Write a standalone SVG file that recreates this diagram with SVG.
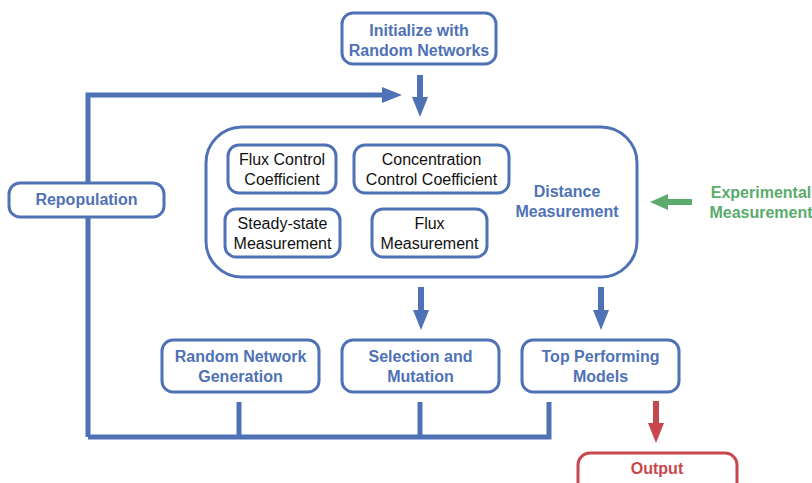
<svg xmlns="http://www.w3.org/2000/svg" width="812" height="483" viewBox="0 0 812 483">
<style>
.box{fill:#fff;stroke:#4f72b6;stroke-width:3}
.inner{fill:#fff;stroke:#4f72b6;stroke-width:3}
.t{font-family:"Liberation Sans",Arial,sans-serif;font-size:16px;text-anchor:middle}
.b{font-weight:bold;fill:#4f72b6}
.k{fill:#111}
.g{font-weight:bold;fill:#5aab6c}
.r{font-weight:bold;fill:#c8474c}
.ln{fill:none;stroke:#4f72b6;stroke-width:5}
.ar{fill:none;stroke:#4f72b6;stroke-width:6}
</style>
<defs>
<marker id="ab" markerUnits="userSpaceOnUse" markerWidth="20" markerHeight="16" viewBox="0 0 20 16" refX="0" refY="8" orient="auto"><path d="M0,0 L20,8 L0,16 z" fill="#4f72b6"/></marker>
<marker id="ag" markerUnits="userSpaceOnUse" markerWidth="18" markerHeight="16" viewBox="0 0 18 16" refX="0" refY="8" orient="auto"><path d="M0,0 L18,8 L0,16 z" fill="#5aab6c"/></marker>
<marker id="ar" markerUnits="userSpaceOnUse" markerWidth="20" markerHeight="16" viewBox="0 0 20 16" refX="0" refY="8" orient="auto"><path d="M0,0 L20,8 L0,16 z" fill="#c8474c"/></marker>
</defs>
<g id="connectors">
<path class="ln" d="M88,437 V95 H382" marker-end="url(#ab)"/>
<path class="ln" d="M88,437 H549 V402"/>
<path class="ln" d="M239,437 V402"/>
<path class="ln" d="M420,437 V402"/>
<path class="ar" d="M420,75 V97" marker-end="url(#ab)"/>
<path class="ar" d="M421,287 V310" marker-end="url(#ab)"/>
<path class="ar" d="M601,287 V310" marker-end="url(#ab)"/>
<path fill="none" stroke="#5aab6c" stroke-width="6" d="M692,202 H668" marker-end="url(#ag)"/>
<path fill="none" stroke="#c8474c" stroke-width="6" d="M656,401 V423" marker-end="url(#ar)"/>
</g>
<g id="init"><rect class="box" x="342" y="13" width="154" height="51" rx="11"/><text class="t b" x="419" y="35.5">Initialize with</text><text class="t b" x="419" y="55.5">Random Networks</text></g>
<g id="repop"><rect class="box" x="9" y="183" width="155" height="34" rx="11"/><text class="t b" x="86.5" y="205">Repopulation</text></g>
<g id="distance"><rect class="box" x="206" y="127" width="431" height="150" rx="36"/><text class="t b" x="567" y="197">Distance</text><text class="t b" x="567" y="217">Measurement</text></g>
<g id="fcc"><rect class="inner" x="228" y="145" width="108" height="48" rx="11"/><text class="t k" x="282" y="165">Flux Control</text><text class="t k" x="282" y="185">Coefficient</text></g>
<g id="ccc"><rect class="inner" x="354" y="145" width="155" height="48" rx="11"/><text class="t k" x="431.5" y="165">Concentration</text><text class="t k" x="431.5" y="185">Control Coefficient</text></g>
<g id="ssm"><rect class="inner" x="225" y="209" width="115" height="48" rx="11"/><text class="t k" x="282.5" y="229">Steady-state</text><text class="t k" x="282.5" y="249">Measurement</text></g>
<g id="fm"><rect class="inner" x="372" y="209" width="115" height="48" rx="11"/><text class="t k" x="429.5" y="229">Flux</text><text class="t k" x="429.5" y="249">Measurement</text></g>
<g id="exp"><text class="t g" x="761" y="198">Experimental</text><text class="t g" x="761" y="218">Measurement</text></g>
<g id="rng"><rect class="box" x="162" y="340" width="157" height="52" rx="11"/><text class="t b" x="240.5" y="362">Random Network</text><text class="t b" x="240.5" y="382">Generation</text></g>
<g id="sel"><rect class="box" x="342" y="340" width="157" height="52" rx="11"/><text class="t b" x="420.5" y="362">Selection and</text><text class="t b" x="420.5" y="382">Mutation</text></g>
<g id="top"><rect class="box" x="522" y="340" width="157" height="52" rx="11"/><text class="t b" x="600.5" y="362">Top Performing</text><text class="t b" x="600.5" y="382">Models</text></g>
<g id="output"><rect x="578" y="453" width="159" height="42" rx="12" fill="#fff" stroke="#c8474c" stroke-width="3"/><text class="t r" x="657" y="474">Output</text></g>
</svg>
